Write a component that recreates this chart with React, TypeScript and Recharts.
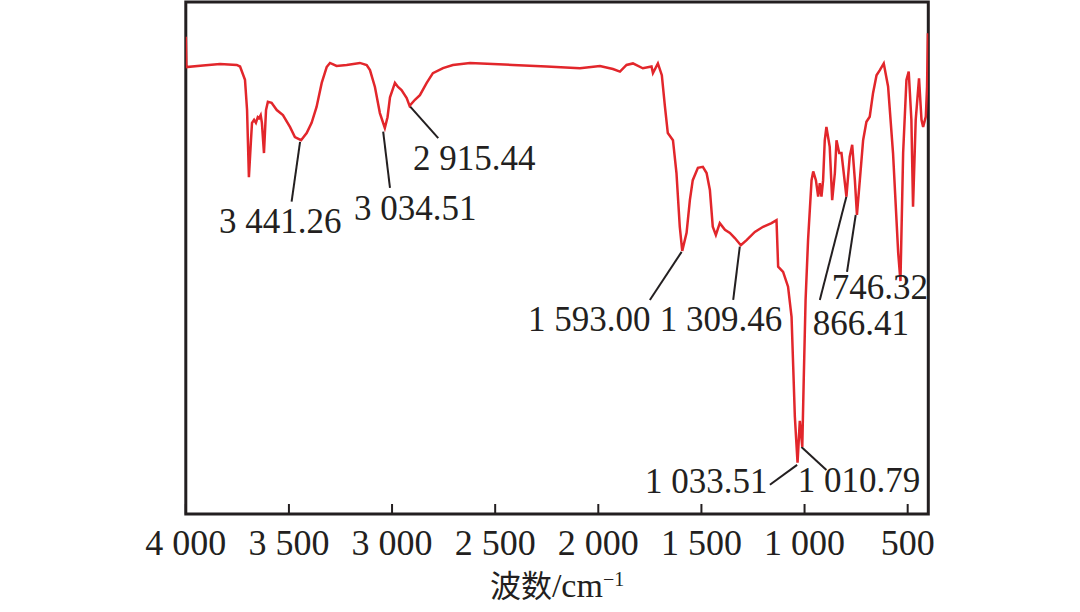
import React from 'react';
import { LineChart, Line, XAxis, YAxis, ReferenceArea, ReferenceLine, ReferenceDot } from 'recharts';

// Wavenumber (cm^-1) of each traced point, high to low
const wavenumber = [
  4000, 3997, 3917, 3834, 3753, 3737, 3713, 3703, 3694, 3684, 3679, 3669, 3660, 3651, 3645, 3637, 3631, 3621, 3611, 3602,
  3584, 3559, 3529, 3495, 3471, 3441, 3414, 3390, 3366, 3341, 3317, 3301, 3269, 3220, 3156, 3123, 3107, 3083, 3059, 3035,
  3022, 3010, 2986, 2971, 2954, 2929, 2915, 2889, 2865, 2832, 2802, 2753, 2705, 2622, 2414, 2251, 2089, 1992, 1929, 1895,
  1863, 1832, 1784, 1742, 1735, 1711, 1692, 1677, 1663, 1638, 1621, 1605, 1593, 1572, 1556, 1542, 1517, 1493, 1475, 1459,
  1445, 1430, 1411, 1386, 1362, 1338, 1309, 1281, 1241, 1201, 1160, 1136, 1128, 1104, 1080, 1063, 1055, 1047, 1034, 1023,
  1011, 1004, 995, 983, 966, 958, 945, 934, 926, 918, 910, 902, 894, 878, 866, 853, 845, 832, 821, 797,
  781, 769, 756, 746, 732, 716, 700, 684, 668, 651, 635, 616, 595, 571, 546, 535, 522, 506, 495, 482,
  474, 461, 445, 433, 425, 412, 406, 402,
];

// Transmittance (arbitrary %) of each traced point
const transmittance = [
  93.2, 87.3, 87.6, 87.9, 87.7, 87.4, 84.8, 78.9, 65.8, 73.0, 76.4, 77.0, 76.4, 77.5, 77.3, 77.9, 76.4, 70.5, 78.9, 80.5,
  80.3, 78.9, 77.9, 75.6, 73.6, 73.0, 74.4, 76.4, 79.5, 84.2, 87.3, 88.1, 87.5, 87.7, 88.1, 87.7, 86.7, 83.4, 78.3, 75.4,
  77.5, 81.4, 84.2, 83.4, 82.8, 81.25, 79.7, 80.9, 81.8, 84.2, 86.1, 87.1, 87.7, 88.1, 87.7, 87.4, 87.05, 87.5, 86.9, 86.4,
  87.7, 88.0, 87.05, 87.4, 86.1, 88.0, 85.7, 79.6, 74.4, 73.0, 66.6, 56.1, 51.4, 54.9, 61.3, 65.2, 67.6, 67.8, 66.6, 63.3,
  56.1, 54.5, 56.8, 55.5, 54.9, 53.9, 52.5, 53.5, 55.1, 56.1, 56.8, 57.4, 48.3, 47.3, 44.4, 38.5, 28.8, 19.0, 10.0, 18.2,
  13.1, 26.2, 41.8, 53.5, 65.2, 66.9, 65.2, 62.0, 64.6, 62.0, 65.2, 73.0, 75.6, 71.7, 61.3, 66.6, 73.0, 70.5, 70.5, 62.0,
  69.8, 72.1, 65.2, 58.4, 65.2, 73.0, 76.6, 77.6, 82.2, 85.7, 86.7, 88.0, 83.5, 70.5, 51.0, 45.5, 70.5, 84.8, 86.4, 77.0,
  60.0, 77.0, 85.1, 77.0, 75.6, 77.6, 83.5, 93.9,
];

const tickValues = [4000, 3500, 3000, 2500, 2000, 1500, 1000, 500];
const tickLabels = ['4 000', '3 500', '3 000', '2 500', '2 000', '1 500', '1 000', '500'];

// Peak annotations
const peakLabels = ['3 441.26', '3 034.51', '2 915.44', '1 593.00', '1 309.46', '866.41', '746.32', '1 033.51', '1 010.79'];
const leaderStartWn = [3446, 3043, 2913, 1596, 1314, 797, 752, 1036, 1015];
const leaderStartT = [72.7, 74.7, 79.6, 51.2, 52.2, 62.0, 58.4, 9.6, 13.1];
const leaderEndWn = [3487, 3010, 2776, 1750, 1346, 926, 794, 1168, 894];
const leaderEndT = [61.0, 63.7, 73.4, 41.8, 41.8, 41.8, 47.3, 5.7, 8.6];
const labelWn = [3839, 3185, 2899, 2341, 1702, 960, 868, 1774, 1033];
const labelT = [54.9, 57.4, 67.2, 35.7, 35.7, 35.0, 42.0, 4.1, 4.3];

const data = wavenumber.map((w, i) => ({ wn: w, t: transmittance[i] }));

const INK = '#231f20';
const RED = '#e2262b';
const SERIF = '"Liberation Serif", "Times New Roman", serif';

const AxisTick = (props: any) => {
  const { x, y, payload } = props;
  const i = tickValues.indexOf(payload.value);
  return (
    <g>
      <line x1={x} x2={x} y1={y} y2={y - 10} stroke={INK} strokeWidth={2} />
      <text x={x} y={y + 41} textAnchor="middle" fontFamily={SERIF} fontSize={36} fill={INK}>
        {tickLabels[i]}
      </text>
    </g>
  );
};

const renderTitle = (props: any) => {
  const vb = props.viewBox || {};
  const cx = vb.x + vb.width / 2;
  const by = vb.y + 83;
  return (
    <text x={cx} y={by} textAnchor="middle" fill={INK} fontSize={34} fontFamily={SERIF}>
      <tspan fontFamily='"Noto Sans CJK SC", sans-serif' fontSize={31}>波数</tspan>
      <tspan>/cm</tspan>
      <tspan fontSize={20} dy={-11}>−1</tspan>
    </text>
  );
};

export default function App() {
  return (
    <div style={{ position: 'absolute', left: 0, top: 0, background: '#fff' }}>
      <LineChart
        width={1080}
        height={612}
        data={data}
        margin={{ top: 2, right: 151.7, bottom: 0, left: 185.8 }}
      >
        <XAxis
          dataKey="wn"
          type="number"
          domain={[400, 4000]}
          reversed
          ticks={tickValues}
          interval={0}
          height={98}
          tickSize={0}
          tickMargin={0}
          tickLine={false}
          axisLine={false}
          tick={<AxisTick />}
          label={{ content: renderTitle }}
          allowDataOverflow
        />
        <YAxis type="number" domain={[0, 100]} hide allowDataOverflow />
        <ReferenceArea x1={4000} x2={400} y1={0} y2={100} fill="none" fillOpacity={0} stroke={INK} strokeWidth={3} />
        {peakLabels.map((lab, i) => (
          <ReferenceLine
            key={'l' + i}
            segment={[
              { x: leaderStartWn[i], y: leaderStartT[i] },
              { x: leaderEndWn[i], y: leaderEndT[i] },
            ]}
            stroke={INK}
            strokeWidth={2}
          />
        ))}
        {peakLabels.map((lab, i) => (
          <ReferenceDot
            key={'d' + i}
            x={labelWn[i]}
            y={labelT[i]}
            r={0}
            shape={(p: any) => (
              <text x={p.cx} y={p.cy} textAnchor="start" fontFamily={SERIF} fontSize={35} fill={INK}>
                {lab}
              </text>
            )}
          />
        ))}
        <Line
          type="linear"
          dataKey="t"
          stroke={RED}
          strokeWidth={2.5}
          dot={false}
          activeDot={false}
          isAnimationActive={false}
        />
      </LineChart>
    </div>
  );
}
